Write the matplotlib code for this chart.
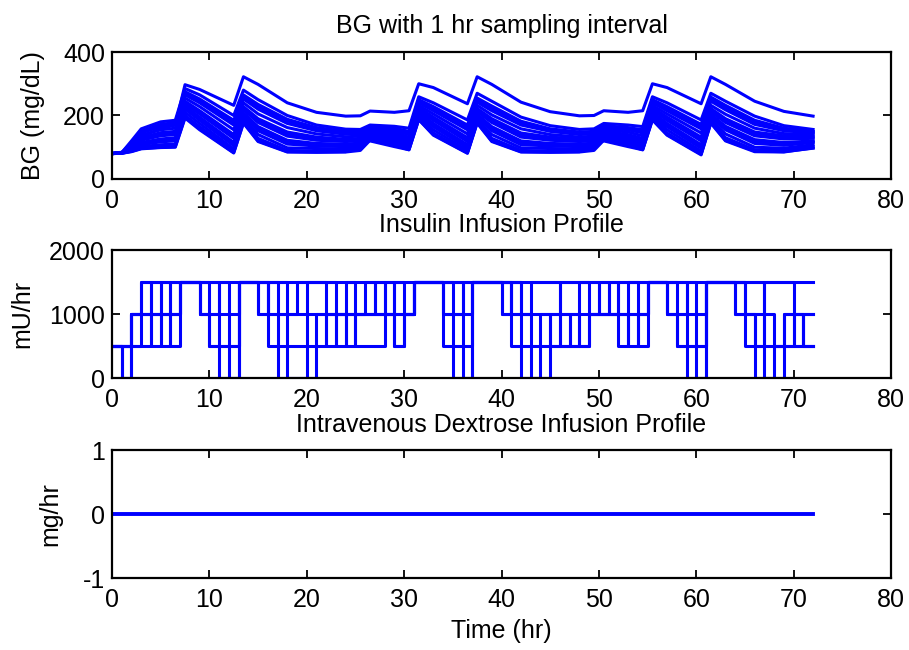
import numpy as np
import matplotlib
matplotlib.use("Agg")
import matplotlib.pyplot as plt

plt.rcParams['font.family'] = ['Liberation Sans', 'DejaVu Sans']
plt.rcParams['axes.unicode_minus'] = False

# ---------------- data ----------------
# BG knot times (hr)
bg_time = [0, 1, 2, 3, 5, 6.5, 7.5, 9, 12.5, 13.5, 15, 18, 21, 24, 25.5, 26.5, 29, 30.5,
           31.5, 33, 36.5, 37.5, 39, 42, 45, 48, 49.5, 50.5, 53, 54.5, 55.5, 57, 60.5,
           61.5, 63, 66, 69, 72]

bg_top = [82, 84, 105, 135, 158, 170, 297, 282, 232, 322, 298, 240, 210, 198, 199, 214, 210, 215,
          300, 288, 237, 322, 298, 242, 212, 199, 200, 215, 210, 215, 300, 288, 237, 322, 298, 245, 213, 198]
bg_c1 = [80, 83, 120, 158, 180, 185, 285, 265, 200, 280, 250, 200, 170, 157, 156, 170, 166, 160,
         259, 240, 186, 270, 245, 195, 168, 156, 158, 175, 170, 165, 259, 240, 186, 270, 245, 198, 168, 156]
bg_c2 = [80, 83, 115, 150, 172, 178, 275, 252, 185, 265, 235, 188, 162, 150, 150, 165, 160, 150,
         250, 228, 170, 255, 230, 182, 158, 148, 150, 168, 162, 155, 250, 228, 172, 258, 232, 185, 160, 150]
bg_c3 = [80, 82, 110, 145, 165, 170, 265, 240, 170, 252, 220, 175, 152, 141, 142, 160, 153, 140,
         240, 215, 155, 242, 215, 170, 150, 140, 142, 162, 155, 145, 240, 215, 158, 245, 218, 172, 152, 145]
bg_c4 = [80, 82, 106, 138, 155, 160, 255, 228, 155, 240, 205, 162, 142, 133, 135, 155, 147, 132,
         232, 205, 142, 232, 202, 158, 140, 132, 135, 155, 148, 136, 232, 205, 145, 232, 204, 160, 143, 140]
bg_c5 = [80, 82, 102, 130, 146, 150, 245, 215, 140, 228, 190, 148, 132, 125, 128, 150, 140, 125,
         225, 195, 130, 222, 190, 145, 132, 126, 128, 150, 140, 128, 225, 195, 132, 222, 190, 148, 136, 135]
bg_c6 = [80, 82, 98, 122, 136, 140, 235, 205, 128, 218, 178, 135, 122, 118, 120, 145, 134, 118,
         218, 185, 118, 212, 178, 132, 122, 118, 120, 145, 133, 120, 218, 185, 120, 212, 178, 136, 126, 128]
bg_c7 = [80, 82, 95, 115, 126, 130, 228, 195, 115, 208, 165, 122, 112, 110, 113, 140, 128, 112,
         212, 175, 108, 204, 165, 120, 112, 110, 113, 140, 127, 113, 210, 175, 108, 204, 166, 124, 115, 120]
bg_c8 = [80, 82, 92, 108, 117, 120, 220, 185, 105, 200, 152, 110, 104, 102, 106, 135, 122, 106,
         205, 165, 98, 196, 152, 108, 104, 102, 106, 135, 121, 106, 203, 165, 97, 196, 155, 112, 106, 115]
bg_c9 = [80, 82, 90, 102, 108, 110, 210, 175, 95, 192, 140, 98, 96, 95, 100, 130, 116, 100,
         198, 155, 90, 188, 140, 98, 96, 95, 100, 130, 115, 100, 196, 155, 88, 188, 142, 100, 97, 108]
bg_c10 = [80, 81, 88, 98, 103, 105, 200, 165, 88, 184, 128, 90, 88, 88, 94, 125, 110, 95,
          192, 145, 84, 181, 128, 90, 88, 88, 94, 125, 110, 95, 190, 145, 80, 181, 130, 92, 90, 102]
bg_c11 = [80, 81, 86, 95, 99, 100, 192, 155, 82, 176, 118, 85, 84, 85, 90, 122, 106, 92,
          187, 138, 81, 176, 118, 85, 84, 85, 90, 122, 106, 92, 186, 138, 76, 176, 120, 86, 85, 98]
bg_c12 = [80, 81, 87, 96, 100, 102, 195, 158, 83, 178, 120, 86, 85, 86, 112, 120, 102, 92,
          188, 140, 82, 178, 120, 86, 85, 86, 112, 120, 102, 92, 188, 140, 78, 178, 122, 88, 86, 97]
bg_c13 = [80, 82, 100, 126, 141, 145, 240, 210, 134, 223, 184, 141, 127, 121, 124, 148, 137, 121,
          221, 190, 124, 217, 184, 138, 127, 122, 124, 148, 136, 124, 221, 190, 126, 217, 184, 142, 131, 131]
bg_c14 = [80, 82, 94, 112, 122, 125, 224, 190, 110, 204, 158, 116, 108, 106, 110, 138, 125, 109,
          208, 170, 103, 200, 158, 114, 108, 106, 110, 138, 124, 109, 206, 170, 102, 200, 160, 118, 110, 118]
bg_c15 = [80, 82, 112, 148, 168, 174, 270, 246, 178, 258, 228, 182, 157, 145, 146, 162, 156, 145,
          245, 221, 162, 248, 222, 176, 154, 144, 146, 165, 158, 150, 245, 221, 165, 251, 225, 178, 156, 148]

bg_series = [bg_top, bg_c1, bg_c2, bg_c15, bg_c3, bg_c4, bg_c5, bg_c13, bg_c6, bg_c7, bg_c14,
             bg_c8, bg_c9, bg_c10, bg_c11, bg_c12]

# Insulin infusion (mU/hr), one value per hour, hours 0..71
ins_s0 = [500, 500, 1000] + [1500] * 69
ins_s1 = [500, 0, 500, 1000, 500, 1000, 500, 1500, 1500,
          1000, 500, 0, 0, 1500, 1500,
          1000, 500, 0, 0, 0, 0, 500, 1000, 500, 1000, 500, 500, 500, 1000, 500, 1000,
          1500, 1500, 1500,
          500, 0, 0,
          1500, 1500, 1500,
          1000, 500, 0, 0, 0, 500, 1000, 500, 1000, 1000, 1000, 1000, 500, 1000, 500,
          1500, 1500,
          1000, 500, 0, 0,
          1500, 1500, 1500,
          1000, 500, 0, 0, 0, 500, 500, 500]
ins_s2 = [500, 500, 1000, 1500, 1000, 1500, 1000, 1500, 1500,
          1500, 1000, 1500, 1000, 1500, 1500,
          1500, 1000, 500, 0, 0, 500, 1000, 500, 1000, 500, 1000, 1500, 1000, 1500, 500, 1000,
          1500, 1500, 1500,
          1000, 500, 0,
          1500, 1500, 1500,
          1500, 1000, 500, 0, 500, 1000, 500, 1000, 500, 1000, 1500, 1000, 1000, 500, 1000,
          1500, 1500,
          1500, 1000, 1500, 1000,
          1500, 1500, 1500,
          1500, 1000, 500, 0, 500, 1000, 500, 1000]
ins_s3 = [500, 500, 1000, 1000, 1500, 1000, 1500, 1500, 1500,
          1000, 1000, 500, 0, 1500, 1500,
          1000, 1500, 1000, 500, 500, 1000, 1000, 1000, 1000, 1000, 1000, 1000, 1000, 1000, 1000, 1000,
          1500, 1500, 1500,
          1500, 1000, 1500,
          1500, 1500, 1500,
          1000, 1500, 1000, 1500, 1500, 1500, 1000, 1000, 1500, 1000, 1000, 1500, 1000, 1500, 1000,
          1500, 1500,
          1000, 1000, 500, 0,
          1500, 1500, 1500,
          1000, 1000, 1000, 1500, 1500, 1500, 1000, 1000]
ins_s4 = [500, 0, 500, 500, 1000, 500, 1000, 1500, 1500,
          1000, 500, 500, 500, 1500, 1500,
          1500, 1500, 1500, 1000, 1500, 1500, 1500, 1500, 1000, 1500, 1000, 1000, 1500, 1000, 1500, 1000,
          1500, 1500, 1500,
          1500, 1500, 1000,
          1500, 1500, 1500,
          1500, 1500, 1000, 1000, 1000, 1000, 1500, 1500, 1500, 1500, 1000, 1000, 1500, 1500, 1500,
          1500, 1500,
          1000, 500, 500, 500,
          1500, 1500, 1500,
          1500, 1500, 1500, 500, 500, 1000, 1000, 500]
ins_s5 = [500, 500, 1000, 1000, 1000, 1000, 1000, 1500, 1500,
          1500, 1500, 1000, 500, 1500, 1500,
          1500, 1000, 1000, 1000, 1000, 1500, 1500, 1000, 1000, 1000, 1000, 1000, 1000, 1000, 1000, 1000,
          1500, 1500, 1500,
          1000, 1000, 500,
          1500, 1500, 1500,
          1500, 1000, 1000, 500, 1000, 500, 500, 500, 500, 1000, 1000, 1000, 1000, 1000, 1000,
          1500, 1500,
          1500, 1500, 1000, 500,
          1500, 1500, 1500,
          1500, 1000, 500, 1000, 500, 500, 1000, 500]

ins_series = [ins_s1, ins_s2, ins_s3, ins_s4, ins_s5, ins_s0]

# Intravenous dextrose infusion (mg/hr), hourly 0..72
dextrose = [0.0] * 73

# ---------------- figure ----------------
W, H = 909, 650
fig = plt.figure(figsize=(W / 100, H / 100), dpi=100)

L = 112 / W
Wd = (891 - 112) / W
def pos(top, bottom):
    return [L, 1 - bottom / H, Wd, (bottom - top) / H]

ax1 = fig.add_axes(pos(52, 179))
ax2 = fig.add_axes(pos(250, 378))
ax3 = fig.add_axes(pos(450, 578))

FS = 18
BLUE = (0, 0, 1)
LW = 2.2

for s in bg_series:
    ax1.plot(bg_time, s, color=BLUE, lw=LW, solid_joinstyle='round')

hours = np.arange(73)
for s in ins_series:
    ax2.step(hours, list(s) + [s[-1]], where='post', color=BLUE, lw=LW)

ax3.plot(hours, dextrose, color=BLUE, lw=LW + 0.6)

for ax in (ax1, ax2, ax3):
    ax.set_xlim(0, 80)
    ax.set_xticks(range(0, 81, 10))
    ax.tick_params(direction='in', top=True, right=True, length=6, width=1.3,
                   labelsize=FS, pad=5)
    ax.tick_params(axis='x', pad=7)
    for sp in ax.spines.values():
        sp.set_linewidth(1.6)

ax1.set_ylim(0, 400)
ax1.set_yticks([0, 200, 400])
ax2.set_ylim(0, 2000)
ax2.set_yticks([0, 1000, 2000])
ax3.set_ylim(-1, 1)
ax3.set_yticks([-1, 0, 1])

ax1.set_title('BG with 1 hr sampling interval', fontsize=FS, pad=14)
ax2.set_title('Insulin Infusion Profile', fontsize=FS, pad=13)
ax3.set_title('Intravenous Dextrose Infusion Profile', fontsize=FS, pad=13)

ax1.set_ylabel('BG (mg/dL)', fontsize=FS)
ax2.set_ylabel('mU/hr', fontsize=FS)
ax3.set_ylabel('mg/hr', fontsize=FS)
ax1.yaxis.set_label_coords(-0.086, 0.5)
ax2.yaxis.set_label_coords(-0.100, 0.5)
ax3.yaxis.set_label_coords(-0.064, 0.5)
ax3.set_xlabel('Time (hr)', fontsize=FS, labelpad=5)

fig.savefig('out.png', dpi=100)
